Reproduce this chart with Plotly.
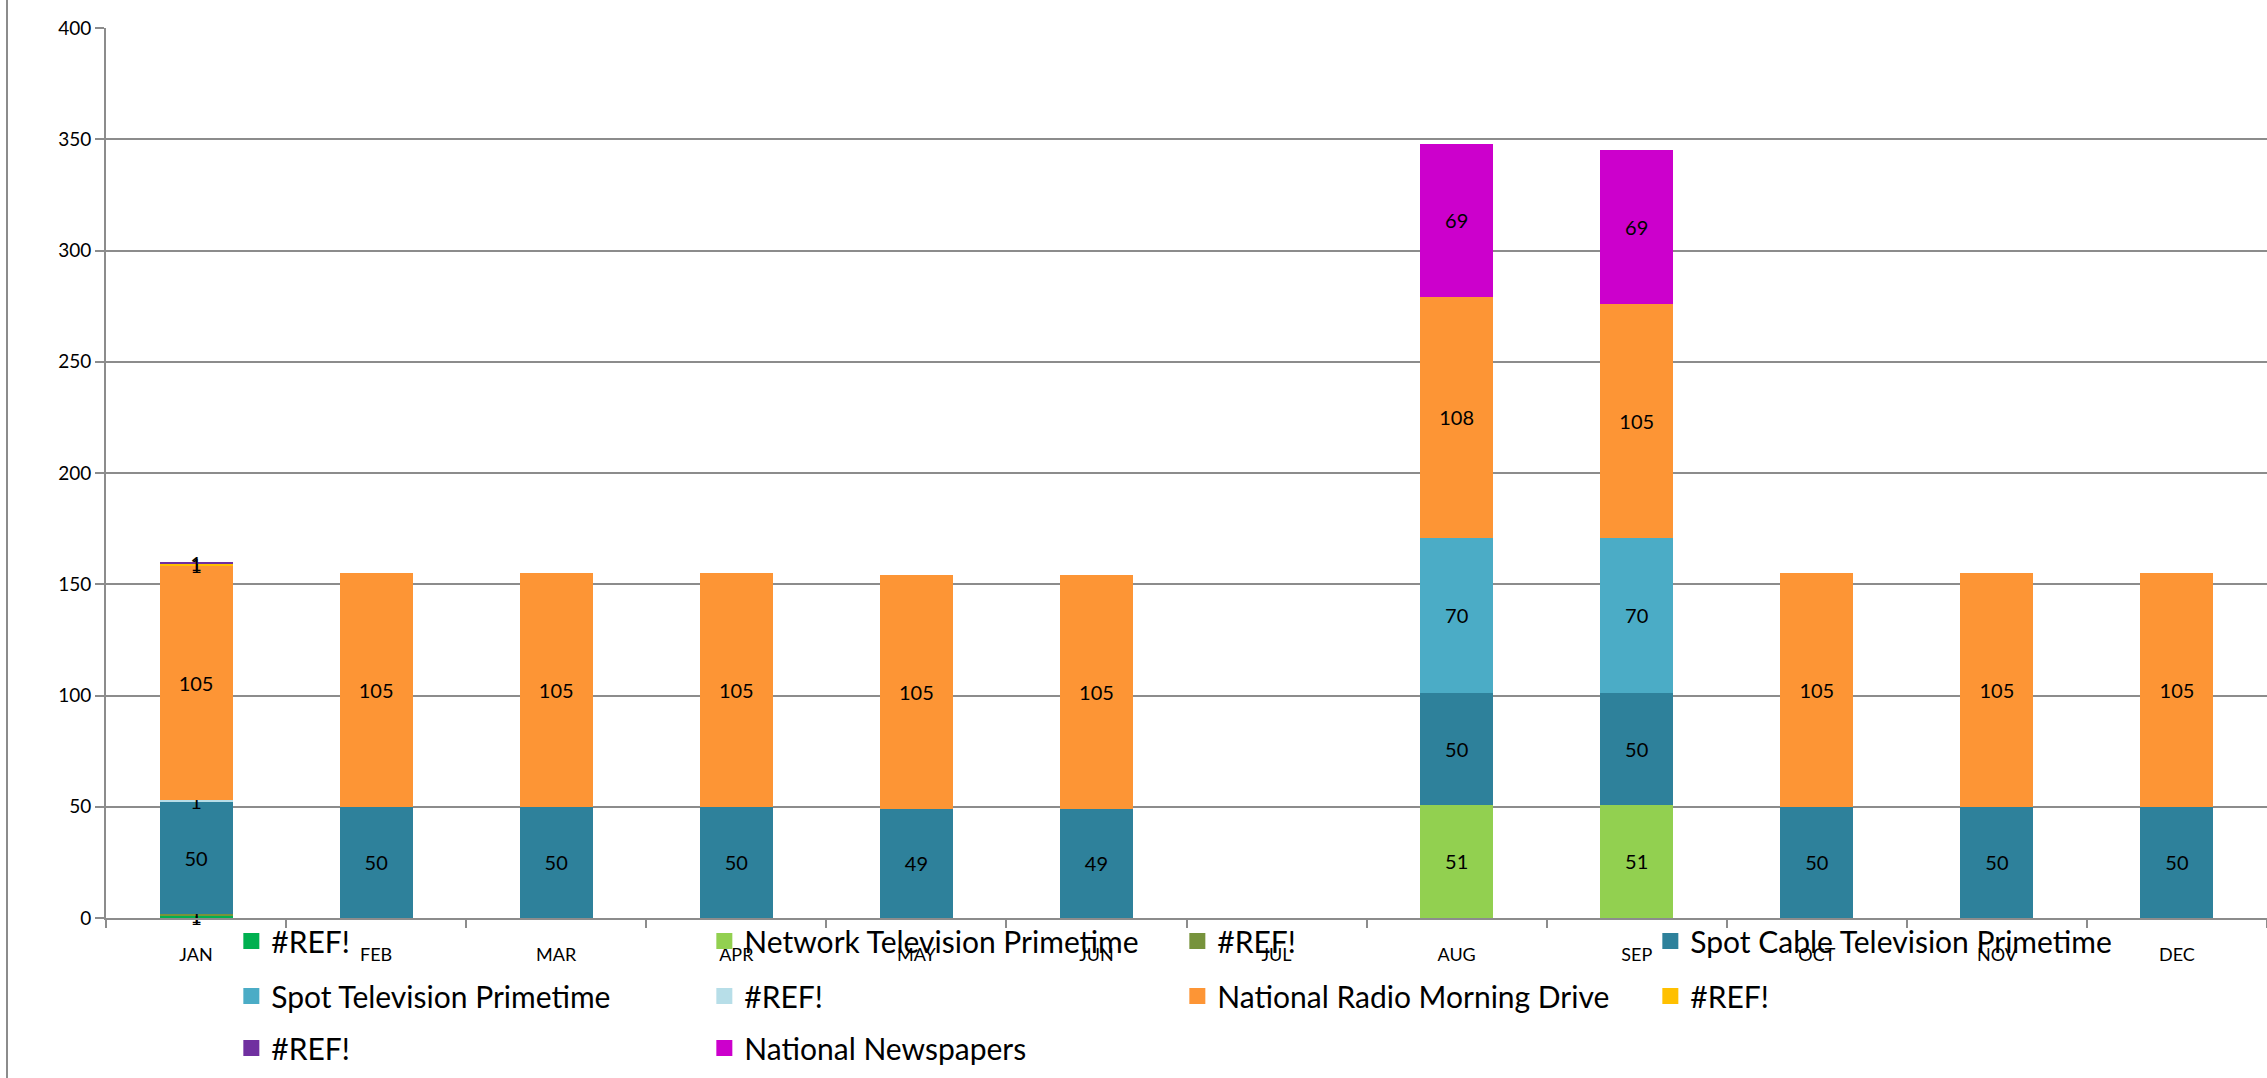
import plotly.graph_objects as go

# Months on the category axis
months = ["JAN", "FEB", "MAR", "APR", "MAY", "JUN",
          "JUL", "AUG", "SEP", "OCT", "NOV", "DEC"]

# Stacked series, bottom to top
ref_green = [1, None, None, None, None, None, None, None, None, None, None, None]
network_tv = [None, None, None, None, None, None, None, 51, 51, None, None, None]
ref_olive = [1, None, None, None, None, None, None, None, None, None, None, None]
spot_cable_tv = [50, 50, 50, 50, 49, 49, None, 50, 50, 50, 50, 50]
spot_tv = [None, None, None, None, None, None, None, 70, 70, None, None, None]
ref_lightblue = [1, None, None, None, None, None, None, None, None, None, None, None]
national_radio = [105, 105, 105, 105, 105, 105, None, 108, 105, 105, 105, 105]
ref_yellow = [1, None, None, None, None, None, None, None, None, None, None, None]
ref_purple = [1, None, None, None, None, None, None, None, None, None, None, None]
national_newspapers = [None, None, None, None, None, None, None, 69, 69, None, None, None]

# y-axis ticks
y_ticks = [0, 50, 100, 150, 200, 250, 300, 350, 400]

series = [
    ("#REF!", ref_green, "#00B050", "legend"),
    ("Network Television Primetime", network_tv, "#92D050", "legend"),
    ("#REF!", ref_olive, "#77933C", "legend"),
    ("Spot Cable Television Primetime", spot_cable_tv, "#2E819B", "legend"),
    ("Spot Television Primetime", spot_tv, "#4BACC6", "legend2"),
    ("#REF!", ref_lightblue, "#B7DEE8", "legend2"),
    ("National Radio Morning Drive", national_radio, "#FD9535", "legend2"),
    ("#REF!", ref_yellow, "#FFC000", "legend2"),
    ("#REF!", ref_purple, "#7030A0", "legend3"),
    ("National Newspapers", national_newspapers, "#CC00CC", "legend3"),
]

FONT = "Lato"

fig = go.Figure()
for i, (name, values, color, legend_id) in enumerate(series):
    group = f"s{i}"
    fig.add_trace(go.Bar(
        x=months,
        y=values,
        name=name,
        marker=dict(color=color, line=dict(width=0)),
        text=["" if v is None else str(v) for v in values],
        textposition="inside",
        insidetextanchor="middle",
        constraintext="none",
        textangle=0,
        cliponaxis=False,
        textfont=dict(family=FONT, size=20, color="black"),
        legendgroup=group,
        showlegend=False,
        hoverinfo="x+y+name",
    ))
    # legend entry with a larger square swatch
    fig.add_trace(go.Scatter(
        x=[None], y=[None],
        mode="markers",
        name=name,
        marker=dict(symbol="square", size=16, color=color),
        legendgroup=group,
        legend=legend_id,
        showlegend=True,
    ))

plot_h = 890.0
def row_y(px_center):
    return (918 - px_center) / plot_h

legend_common = dict(
    orientation="h",
    x=0.058,
    xanchor="left",
    yanchor="middle",
    entrywidth=428,
    entrywidthmode="pixels",
    traceorder="normal",
    bgcolor="rgba(0,0,0,0)",
    font=dict(family=FONT, size=30, color="black"),
)

fig.update_layout(
    width=2267,
    height=1078,
    margin=dict(l=106, r=0, t=28, b=160, autoexpand=False),
    paper_bgcolor="white",
    plot_bgcolor="white",
    barmode="stack",
    bargap=0.595,
    font=dict(family=FONT, color="black"),
    legend=dict(**legend_common, y=row_y(941)),
    legend2=dict(**legend_common, y=row_y(996)),
    legend3=dict(**legend_common, y=row_y(1048)),
    xaxis=dict(
        type="category",
        categoryorder="array",
        categoryarray=months,
        showline=True,
        linecolor="#8C8C8C",
        linewidth=2,
        ticks="outside",
        tickson="boundaries",
        ticklen=8,
        tickcolor="#8C8C8C",
        tickwidth=2,
        ticklabelstandoff=19,
        tickfont=dict(family=FONT, size=18, color="black"),
        showgrid=False,
        zeroline=False,
    ),
    yaxis=dict(
        range=[0, 400],
        tickvals=y_ticks,
        showline=True,
        linecolor="#8C8C8C",
        linewidth=2,
        ticks="outside",
        ticklen=9,
        tickcolor="#8C8C8C",
        tickwidth=2,
        tickfont=dict(family=FONT, size=19, color="black"),
        showgrid=True,
        gridcolor="#8C8C8C",
        gridwidth=2,
        zeroline=False,
    ),
    shapes=[
        # chart frame edge on the left
        dict(type="line", xref="paper", yref="paper",
             x0=(7 - 106) / 2161, x1=(7 - 106) / 2161,
             y0=918 / plot_h, y1=(918 - 1078) / plot_h,
             line=dict(color="#8C8C8C", width=2)),
    ],
)

fig.write_html("out.html")
